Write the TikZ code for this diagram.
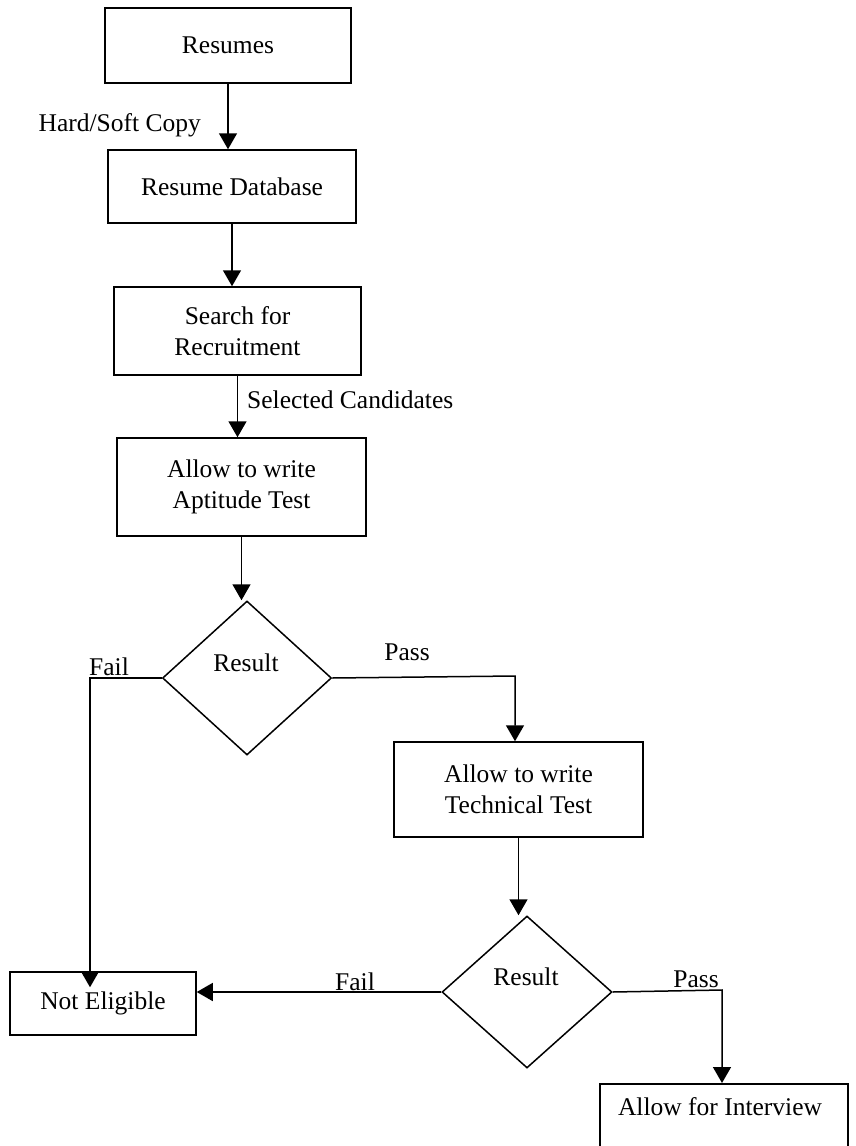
\documentclass[tikz,border=0pt]{standalone}
\usepackage{fontspec}
\setmainfont{Liberation Serif}
\usetikzlibrary{shapes.geometric,arrows.meta}
\begin{document}
\begin{tikzpicture}[x=1pt,y=-1pt,
  box/.style={draw, line width=1.5pt, inner sep=0pt, align=center, font=\fontsize{25.5}{31}\selectfont},
  dec/.style={draw, diamond, line width=1.5pt, inner sep=0pt},
  lbl/.style={font=\fontsize{25.5}{31}\selectfont, inner sep=0pt},
  flow/.style={line width=1.5pt, -{Triangle[length=16pt,width=18pt]}},
]
\fill[white] (0,0) rectangle (856,1146);
\useasboundingbox (0,0) rectangle (856,1146);

\node[box, minimum width=246pt, minimum height=75pt] (resumes) at (228,45.5) {Resumes};
\node[box, minimum width=248pt, minimum height=73pt] (db) at (232,186.5) {Resume Database};
\node[box, minimum width=247pt, minimum height=88pt] (search) at (237.5,331) {Search for\\Recruitment};
\node[box, minimum width=249pt, minimum height=98pt] (apt) at (241.5,487) {Allow to write\\Aptitude Test};
\node[dec, minimum width=169pt, minimum height=154pt] (d1) at (247,678) {};
\node[lbl] (d1t) at (246,663) {Result};
\node[box, minimum width=249pt, minimum height=95pt] (tech) at (518.5,789.5) {Allow to write\\Technical Test};
\node[dec, minimum width=170pt, minimum height=152pt] (d2) at (527,992) {};
\node[lbl] (d2t) at (526,977) {Result};
\node[box, minimum width=186pt, minimum height=63pt] (ne) at (103,1003.5) {Not Eligible};
\node[box, anchor=north, minimum width=248pt, minimum height=80pt] (iv) at (724,1083) {};
\node[lbl] (ivt) at (720,1107) {Allow for Interview};

\node[lbl, anchor=base east] (hs) at (201,131) {Hard/Soft Copy};
\node[lbl, anchor=west] (sc) at (247,400) {Selected Candidates};
\node[lbl, anchor=base west] (f1l) at (89,675) {Fail};
\node[lbl, anchor=base] (p1l) at (407,660) {Pass};
\node[lbl, anchor=base] (f2l) at (355,990) {Fail};
\node[lbl, anchor=base] (p2l) at (696,987) {Pass};

\draw[flow] (resumes.south) -- (resumes.south |- db.north);
\draw[flow] (db.south) -- (db.south |- search.north);
\draw[flow] (search.south) -- (search.south |- apt.north);
\draw[flow] (apt.south) -- (apt.south |- d1.north);
\coordinate (f1) at (90,678);
\draw[flow, shorten >=-16pt] (d1.west) -- (f1) -- (f1 |- ne.north);
\coordinate (p1) at (515,676);
\draw[flow] (d1.east) -- (p1) -- (p1 |- tech.north);
\draw[flow] (tech.south) -- (tech.south |- d2.north);
\draw[flow] (d2.west) -- (d2.west -| ne.east);
\coordinate (p2) at (722,990);
\draw[flow] (d2.east) -- (p2) -- (p2 |- iv.north);
\end{tikzpicture}
\end{document}
